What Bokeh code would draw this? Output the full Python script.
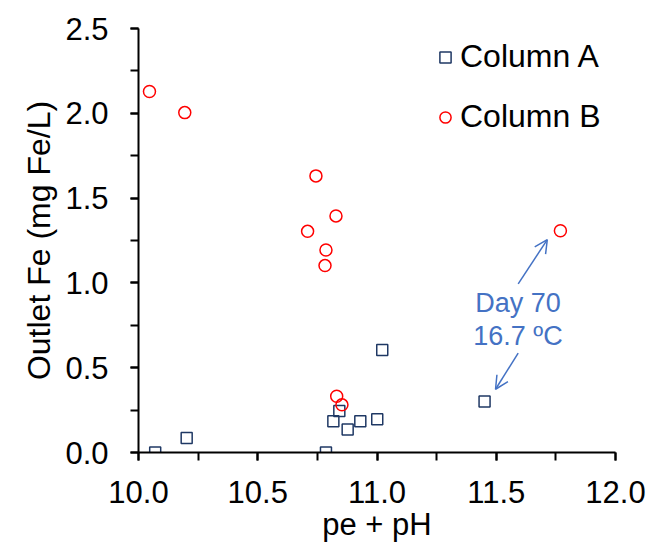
from bokeh.plotting import figure
from bokeh.models import (Range1d, SingleIntervalTicker, NumeralTickFormatter, Legend, LegendItem,
                          Arrow, OpenHead, ColumnDataSource)
from bokeh.core.properties import value
from bokeh.embed import file_html
from bokeh.resources import INLINE

# Data
col_a_x = [10.070, 10.202, 10.786, 10.817, 10.842, 10.877, 10.930, 11.001, 11.022, 11.451]
col_a_y = [0.000, 0.086, 0.000, 0.184, 0.245, 0.135, 0.184, 0.196, 0.605, 0.300]
col_b_x = [10.046, 10.194, 10.744, 10.828, 10.709, 10.786, 10.782, 10.831, 10.853, 11.769]
col_b_y = [2.129, 2.004, 1.631, 1.395, 1.304, 1.194, 1.102, 0.332, 0.281, 1.308]
series_names = ["Column A", "Column B"]
annot_lines = ["Day 70", "16.7 ºC"]
annot_x = [11.591, 11.591]
annot_y = [0.882, 0.686]
arrow_up = (11.592, 0.994, 11.714, 1.255)
arrow_down = (11.592, 0.586, 11.497, 0.373)

FONT = "Liberation Sans"
BLUE = "#4472C4"
NAVY = "#1F3864"
RED = "#FF0000"

p = figure(width=648, height=544, output_backend="svg", toolbar_location=None,
           x_range=Range1d(10, 12), y_range=Range1d(0, 2.5),
           min_border_left=138, min_border_right=33, min_border_top=28, min_border_bottom=92)
p.outline_line_color = None
p.xgrid.visible = False
p.ygrid.visible = False

ra = p.scatter(col_a_x, col_a_y, marker="square", size=11, fill_color=None,
               line_color=NAVY, line_width=1.5)
rb = p.scatter(col_b_x, col_b_y, marker="circle", size=12, fill_color=None,
               line_color=RED, line_width=1.5)

for ax, ticker in ((p.xaxis[0], SingleIntervalTicker(interval=0.5, num_minor_ticks=2)),
                   (p.yaxis[0], SingleIntervalTicker(interval=0.5, num_minor_ticks=2))):
    ax.ticker = ticker
    ax.formatter = NumeralTickFormatter(format="0.0")
    ax.axis_line_width = 2
    ax.axis_line_color = "black"
    ax.major_tick_line_width = 2
    ax.minor_tick_line_width = 2
    ax.major_tick_out = 8
    ax.major_tick_in = 0
    ax.minor_tick_out = 8
    ax.minor_tick_in = 0
    ax.major_label_text_font = FONT
    ax.major_label_text_font_size = "31px"
    ax.major_label_text_color = "black"
    ax.axis_label_text_font = FONT
    ax.axis_label_text_font_style = "normal"
    ax.axis_label_text_color = "black"

p.xaxis.axis_label = "pe + pH"
p.yaxis.axis_label = "Outlet Fe (mg Fe/L)"
p.xaxis.axis_label_text_font_size = "31px"
p.yaxis.axis_label_text_font_size = "32px"
p.xaxis.major_label_standoff = 20
p.xaxis.axis_label_standoff = 1
p.yaxis.major_label_standoff = 22
p.yaxis.axis_label_standoff = 5

legend = Legend(items=[LegendItem(label=series_names[0], renderers=[ra]),
                       LegendItem(label=series_names[1], renderers=[rb])],
                location=(293, 317), padding=0, margin=0, spacing=23,
                glyph_width=28, glyph_height=36, label_height=36, label_standoff=1,
                label_text_font=FONT, label_text_font_size="32px", label_text_color="black",
                border_line_color=None, background_fill_alpha=0)
p.add_layout(legend, "center")

src = ColumnDataSource(dict(x=annot_x, y=annot_y, t=annot_lines))
p.text(x="x", y="y", text="t", source=src, text_font=value(FONT), text_font_size="27px",
       text_color=BLUE, text_align="center", text_baseline="alphabetic")

for (x0, y0, x1, y1) in (arrow_up, arrow_down):
    p.add_layout(Arrow(x_start=x0, y_start=y0, x_end=x1, y_end=y1, line_color=BLUE, line_width=1.5,
                       end=OpenHead(size=13, line_color=BLUE, line_width=1.5)))

open("out.html", "w").write(file_html(p, INLINE))
